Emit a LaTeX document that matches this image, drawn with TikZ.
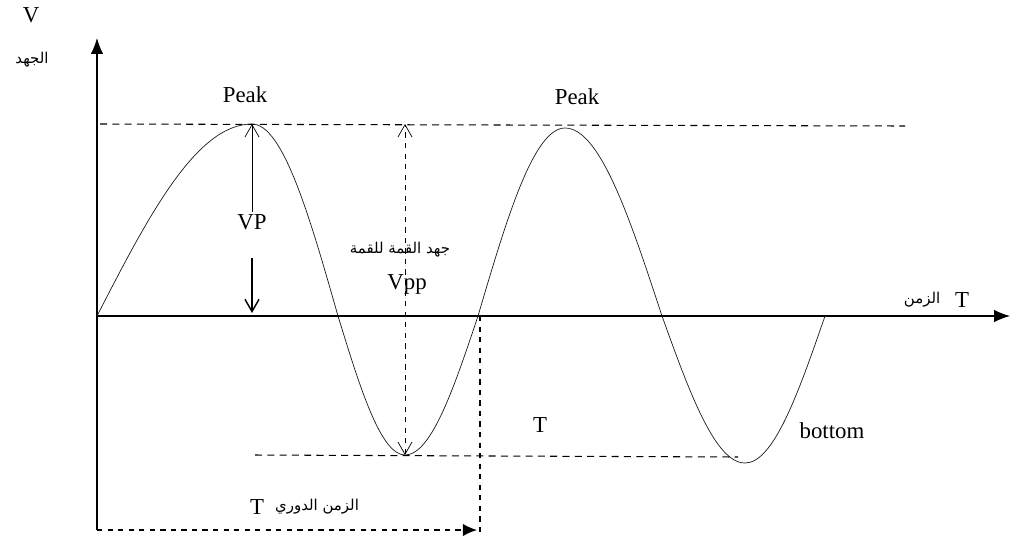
\documentclass[tikz,border=0pt]{standalone}
\usepackage{fontspec}
\setmainfont{Liberation Serif}
\newfontfamily\arabicfont[Script=Arabic]{DejaVu Sans}
\TeXXeTstate=1
\usetikzlibrary{positioning, arrows.meta, calc}
\definecolor{waveInk}{HTML}{1A1A1A}

\begin{document}
\begin{tikzpicture}[x=0.02cm, y=-0.02cm,
    lbl/.style={font=\fontsize{13}{15}\selectfont, inner sep=1pt},
    arlbl/.style={font=\arabicfont\fontsize{8.5}{10}\selectfont, inner sep=1pt},
    axisline/.style={semithick, -{Latex[length=9pt, width=7pt]}},
    levelline/.style={semithick, dash pattern=on 4pt off 3pt},
    barb/.style={-{Straight Barb[length=7pt, width=8pt]}}]
  \useasboundingbox (0,0) rectangle (1013,542);
  % axes
  \coordinate (O) at (97,316);
  \coordinate (ytop) at (97,38);
  \coordinate (ybot) at (97,530);
  \coordinate (xend) at (1010,316);
  \draw[axisline] (ybot) -- (ytop);
  \draw[axisline] (O) -- (xend);
  % wave
  \coordinate (peakA) at (252,124);
  \coordinate (troughA) at (405,455);
  \coordinate (cross) at (478,316);
  \coordinate (peakB) at (565,128);
  \coordinate (troughB) at (745,463);
  \draw[waveInk, thin] (O) sin (peakA) cos (338,316) sin (troughA) cos (cross)
    sin (peakB) cos (662,316) sin (troughB) cos (825,316);
  % level lines
  \coordinate (topL) at (100,124);
  \coordinate (topR) at (905,126);
  \coordinate (botL) at (255,455);
  \coordinate (botR) at (738,457);
  \draw[levelline] (topL) -- (topR);
  \draw[levelline] (botL) -- (botR);
  % VP
  \node[lbl] (vp) at (252,222) {VP};
  \coordinate (vpfoot) at (252,313);
  \draw[thin, barb] (vp.north) -- (peakA);
  \draw[thick, barb] ($(vp.south)+(0,26)$) -- (vpfoot);
  % Vpp
  \coordinate (ppTop) at (405,124);
  \draw[thin, dashed, {Straight Barb[length=7pt, width=8pt]}-{Straight Barb[length=7pt, width=8pt]}] (troughA) -- (ppTop);
  \node[arlbl] (vppar) at (400,250) {\beginR جهد القمة للقمة\endR};
  \node[lbl] (vpp) at (407,284) {Vpp};
  % period
  \coordinate (perTop) at (480,316);
  \coordinate (perBot) at (480,535);
  \coordinate (perEnd) at (477,530);
  \draw[thick, dashed] (perTop) -- (perBot);
  \draw[thick, dashed, -{Latex[length=8pt, width=7pt]}] (ybot) -- (perEnd);
  \node[lbl] (tper) at (257,507) {T};
  \node[arlbl, right=4pt of tper] (perar) {\beginR الزمن الدوري\endR};
  % labels
  \node[lbl] (peakAlbl) at (245,95) {Peak};
  \node[lbl] (peakBlbl) at (577,97) {Peak};
  \node[lbl] (tmid) at (540,425) {T};
  \node[lbl] (bottom) at (832,431) {bottom};
  \node[lbl] (vax) at (31,15) {V};
  \node[arlbl] (vaxar) at (32,60) {\beginR الجهد\endR};
  \node[lbl] (tax) at (962,300) {T};
  \node[arlbl, left=6pt of tax] (taxar) {\beginR الزمن\endR};
\end{tikzpicture}
\end{document}
